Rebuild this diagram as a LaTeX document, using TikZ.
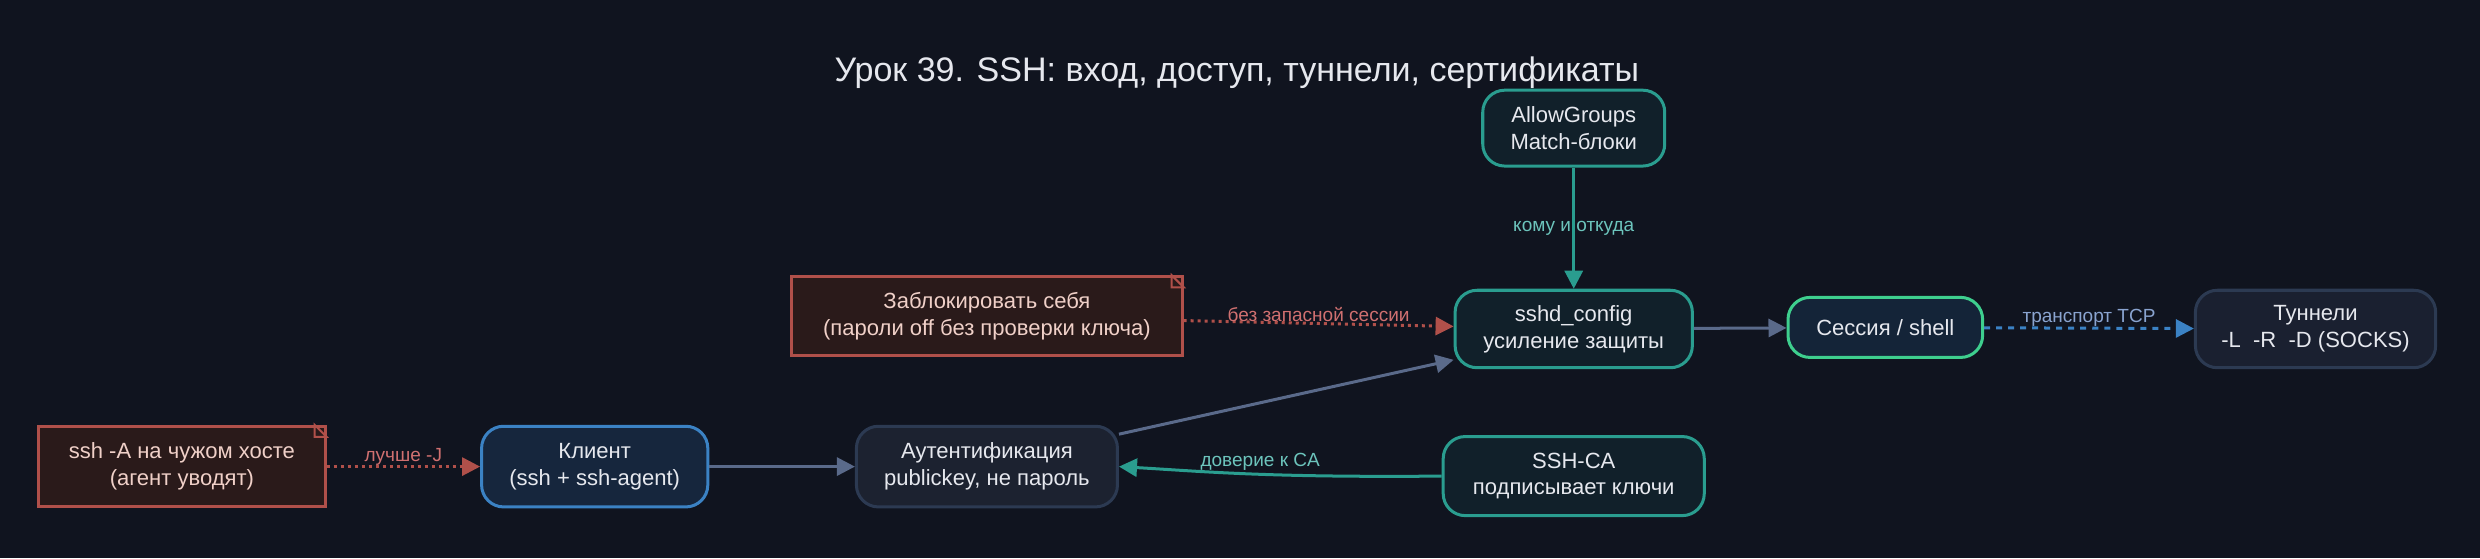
\documentclass[tikz,border=0pt]{standalone}
\usepackage{fontspec}
\setmainfont{Liberation Sans}
\usetikzlibrary{arrows.meta,positioning}

\definecolor{bgdark}{HTML}{10141F}
\definecolor{txtlight}{HTML}{E6E8EE}
\definecolor{slateedge}{HTML}{5A6A8A}
\definecolor{tealedge}{HTML}{2A9D8F}
\definecolor{rededge}{HTML}{B0504A}
\definecolor{blueedge}{HTML}{3B82C4}
\definecolor{notefill}{HTML}{2A1A1A}
\definecolor{notetext}{HTML}{F0D0C8}
\definecolor{tealfill}{HTML}{11202A}
\definecolor{slateborder}{HTML}{2C3A52}
\definecolor{teallabel}{HTML}{6CC4BC}
\definecolor{redlabel}{HTML}{D07070}
\definecolor{bluelabel}{HTML}{8AA4D0}

\tikzset{
  box/.style={draw, rounded corners=11pt, line width=1.5pt, align=center,
    text=txtlight, font=\fontsize{11}{13.4}\selectfont, inner sep=0pt},
  notebox/.style={draw=rededge, fill=notefill, line width=1.5pt, align=center,
    text=notetext, font=\fontsize{11}{13.4}\selectfont, inner sep=0pt},
  flow/.style={-{Triangle[length=9pt,width=9pt]}, line width=1.5pt},
  elabel/.style={font=\fontsize{9.5}{11}\selectfont, inner sep=1pt},
}

\begin{document}
\begin{tikzpicture}[x=0.79pt,y=-0.79pt]
  % background
  \fill[bgdark] (0,0) rectangle (1568,353);

  % title
  \node[text=txtlight, font=\fontsize{17}{20}\selectfont] (title) at (782,46)
    {Урок 39. SSH: вход, доступ, туннели, сертификаты};

  % nodes
  \node[box, draw=tealedge, fill=tealfill, minimum width=90.9pt, minimum height=37.9pt] (allow) at (995,81) {AllowGroups\\Match-блоки};
  \node[box, draw=tealedge, fill=tealfill, minimum width=118.5pt, minimum height=38.7pt] (sshd) at (995,208) {sshd\_config\\усиление защиты};
  \node[box, draw={rgb,255:red,62;green,207;blue,142}, fill={rgb,255:red,20;green,36;blue,56}, minimum width=97.2pt, minimum height=30pt] (sess) at (1192,207) {Сессия / shell};
  \node[box, draw=slateborder, fill={rgb,255:red,26;green,32;blue,48}, minimum width=120pt, minimum height=38.7pt] (tunnel) at (1464,208) {Туннели\\-L~ -R~ -D (SOCKS)};
  \node[box, draw=blueedge, fill={rgb,255:red,22;green,38;blue,61}, minimum width=113pt, minimum height=40.3pt] (client) at (376,295) {Клиент\\(ssh + ssh-agent)};
  \node[box, draw=slateborder, fill={rgb,255:red,28;green,34;blue,48}, minimum width=130.4pt, minimum height=40.3pt] (auth) at (624,295) {Аутентификация\\publickey, не пароль};
  \node[box, draw=tealedge, fill=tealfill, minimum width=130.4pt, minimum height=39.5pt] (ca) at (995,301) {SSH-CA\\подписывает ключи};
  \node[notebox, minimum width=195pt, minimum height=39.5pt] (lock) at (624,200) {Заблокировать себя\\(пароли off без проверки ключа)};
  \node[notebox, minimum width=143pt, minimum height=40.3pt] (fwd) at (115,295) {ssh -A на чужом хосте\\(агент уводят)};

  % folded corners of the notes
  \foreach \n in {lock,fwd} {
    \draw[rededge, line width=1pt] ([xshift=-6pt]\n.north east) -- ([yshift=-6pt]\n.north east) -- ([xshift=-6pt,yshift=-6pt]\n.north east) -- cycle;
  }

  % connectors
  \draw[flow, slateedge] (client) -- (auth);
  \draw[flow, slateedge] ([yshift=-4.7pt]auth.north east) -- ([yshift=4.7pt]sshd.south west);
  \draw[flow, slateedge] (sshd) -- (sess);
  \draw[flow, tealedge] (allow) -- node[elabel, text=teallabel] {кому и откуда} (sshd);
  \draw[flow, tealedge] (ca.west) .. controls (800,302) and (760,298) .. (auth.east)
    node[pos=0.45, above, elabel, text=teallabel] {доверие к CA};
  \draw[flow, rededge, dotted] (lock) -- node[above, elabel, inner sep=0pt, text=redlabel] {без запасной сессии} (sshd);
  \draw[flow, rededge, dotted] (fwd) -- node[above, elabel, inner sep=0pt, text=redlabel] {лучше -J} (client);
  \draw[flow, blueedge, dashed] (sess) -- node[above, elabel, inner sep=0pt, text=bluelabel] {транспорт TCP} (tunnel);
\end{tikzpicture}
\end{document}
